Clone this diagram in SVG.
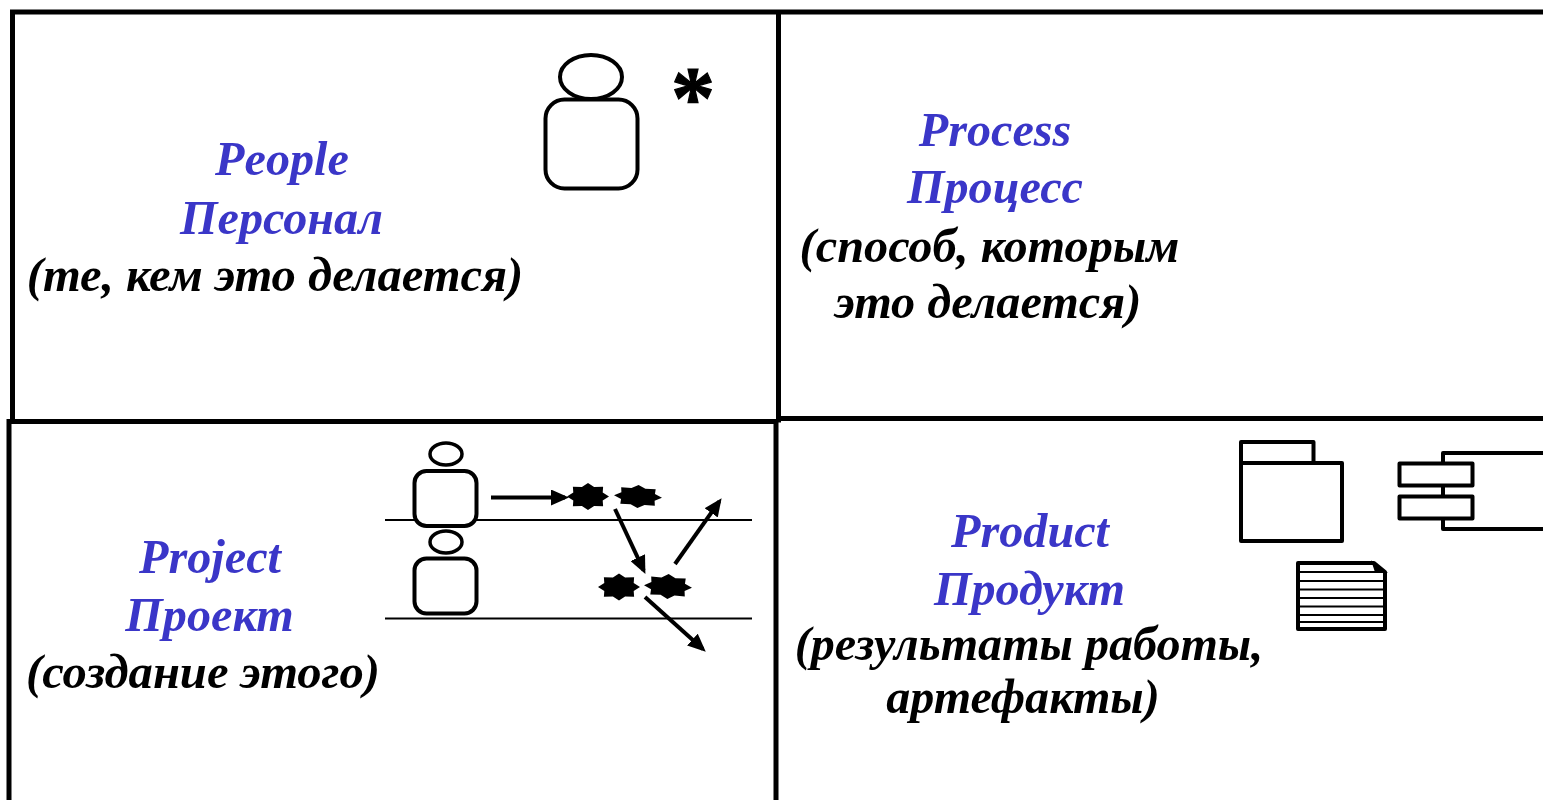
<svg xmlns="http://www.w3.org/2000/svg" width="1543" height="800" viewBox="0 0 1543 800">
<style>
text{font-family:"Liberation Serif","Times New Roman",serif;font-weight:bold;font-style:italic;font-size:48.6px;fill:#000}
text.t{fill:#3a36c8;font-size:48.2px}
text.n{font-size:48.1px}
.f{fill:none;stroke:#000;stroke-width:5;stroke-linecap:square}
.o{fill:none;stroke:#000;stroke-width:4}
.w{fill:#fff;stroke:#000;stroke-width:4;stroke-linejoin:round}
.p{fill:none;stroke:#000;stroke-width:3.5}
.l{fill:none;stroke:#000;stroke-width:2}
.c{fill:none;stroke:#000;stroke-width:4;marker-end:url(#a)}
</style>
<defs>
<marker id="a" viewBox="0 0 18 16" markerUnits="userSpaceOnUse" markerWidth="18" markerHeight="16" refX="14" refY="8" orient="auto"><path d="M0 0L18 8L0 16Z" fill="#000"/></marker>
<polygon id="s" points="1,0 .7,.29 .72,.72 .29,.7 0,1 -.29,.7 -.72,.72 -.7,.29 -1,0 -.7,-.29 -.72,-.72 -.29,-.7 0,-1 .29,-.7 .72,-.72 .7,-.29" fill="#000"/>
</defs>
<rect width="1543" height="800" fill="#fff"/>
<g id="frame">
<path class="f" d="M12.500 12H1545M12.500 12V420M778.500 12V420M9 421.500H776M778.500 418.500H1545M9 421.500V802M776 421.500V802"/>
</g>
<g id="people">
<text class="t" x="282" y="175" text-anchor="middle">People</text>
<text class="t" x="281.500" y="233.500" text-anchor="middle">Персонал</text>
<text x="275" y="291" text-anchor="middle">(те, кем это делается)</text>
<ellipse class="o" cx="591" cy="77" rx="31" ry="22"/>
<rect class="w" x="545.500" y="99.500" width="92" height="89" rx="19"/>
<text x="693" y="127" text-anchor="middle" style="font-size:88px;font-style:normal;stroke:#000;stroke-width:1.200px">*</text>
</g>
<g id="process">
<text class="t" x="995" y="145.500" text-anchor="middle">Process</text>
<text class="t" x="995" y="203" text-anchor="middle">Процесс</text>
<text class="n" x="989.500" y="261.500" text-anchor="middle" style="font-size:48.300px">(способ, которым</text>
<text class="n" x="988" y="317.500" text-anchor="middle" style="font-size:48.300px">это делается)</text>
</g>
<g id="project">
<text class="t" x="210" y="572.500" text-anchor="middle">Project</text>
<text class="t" x="209.500" y="630.500" text-anchor="middle">Проект</text>
<text x="203" y="687.500" text-anchor="middle">(создание этого)</text>
<path class="l" d="M385 520H752M385 618.500H752"/>
<ellipse class="p" cx="446" cy="454" rx="16" ry="11"/>
<rect class="w" x="414.500" y="471" width="62" height="55" rx="12"/>
<ellipse class="p" cx="446" cy="542" rx="16" ry="11"/>
<rect class="w" x="414.500" y="558.500" width="62" height="55" rx="12"/>
<use href="#s" transform="translate(588 496.500) scale(21 13.500)"/>
<use href="#s" transform="translate(638 496.500) rotate(3) scale(24 11.500)"/>
<use href="#s" transform="translate(619 587) scale(21 13.500)"/>
<use href="#s" transform="translate(668 586.500) rotate(3) scale(24 12.500)"/>
</g>
<g id="product">
<text class="t" x="1030" y="547" text-anchor="middle">Product</text>
<text class="t" x="1029.500" y="604.500" text-anchor="middle">Продукт</text>
<text class="n" x="1029" y="659.500" text-anchor="middle">(результаты работы,</text>
<text class="n" x="1023" y="712.500" text-anchor="middle">артефакты)</text>
<path class="w" d="M1241 463V442H1313.500V463M1241 463H1342V541H1241Z"/>
<path class="w" d="M1443 463V453H1546V529H1443V519M1443 486V496"/>
<rect class="w" x="1399.500" y="463.500" width="73" height="22"/>
<rect class="w" x="1399.500" y="496.500" width="73" height="22"/>
<path d="M1298 563H1374L1385 572V629H1298Z" fill="#fff" stroke="#000" stroke-width="4" stroke-linejoin="round"/>
<path d="M1373 563L1385 572H1376Z" fill="#000" stroke="#000" stroke-width="2"/>
<path class="l" d="M1298 572H1385M1298 581H1385M1298 589.500H1385M1298 598H1385M1298 606.500H1385M1298 615H1385M1298 622H1385"/>
</g>
<g id="connectors">
<path class="c" d="M491 497.500H565"/>
<path class="c" d="M615 509L643.700 570.300"/>
<path class="c" d="M675 564L719.300 501.400"/>
<path class="c" d="M645 597L702.800 649"/>
</g>
</svg>
